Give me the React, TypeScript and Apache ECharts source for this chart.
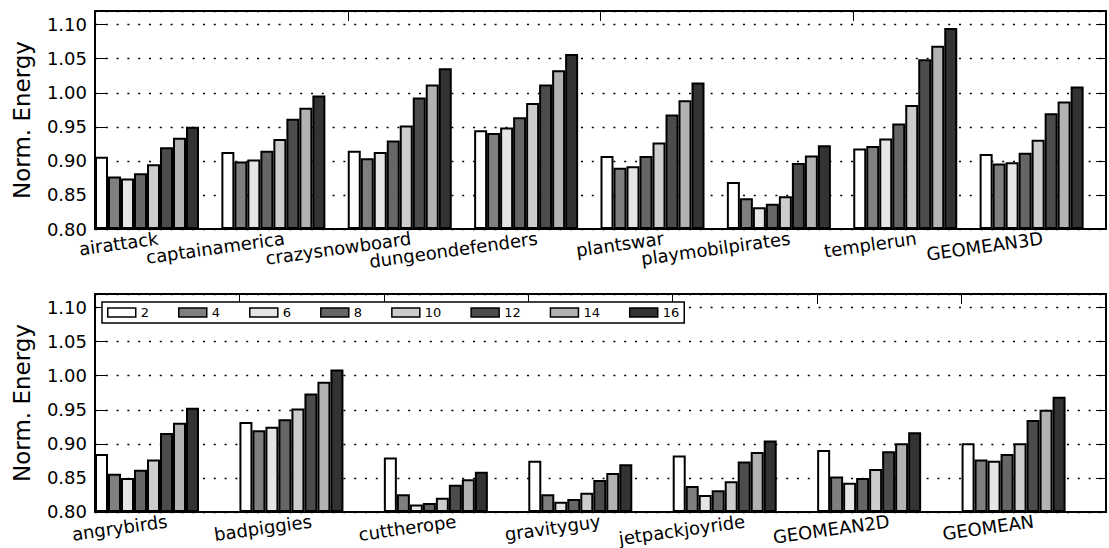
import React, { useEffect, useRef } from 'react';
import * as echarts from 'echarts';

// ---------- data ----------
const topCategories = ['airattack', 'captainamerica', 'crazysnowboard', 'dungeondefenders', 'plantswar', 'playmobilpirates', 'templerun', 'GEOMEAN3D'];
const bottomCategories = ['angrybirds', 'badpiggies', 'cuttherope', 'gravityguy', 'jetpackjoyride', 'GEOMEAN2D', 'GEOMEAN'];
const seriesNames = ['2', '4', '6', '8', '10', '12', '14', '16'];
const seriesColors = ['#ffffff', '#7f7f7f', '#e5e5e5', '#666666', '#cccccc', '#4c4c4c', '#b2b2b2', '#333333'];
const yTicks = [0.8, 0.85, 0.9, 0.95, 1.0, 1.05, 1.1];

// values per category, one per series (2,4,6,8,10,12,14,16)
const airattack = [0.906, 0.877, 0.874, 0.882, 0.895, 0.920, 0.934, 0.950];
const captainamerica = [0.913, 0.899, 0.902, 0.915, 0.932, 0.962, 0.978, 0.996];
const crazysnowboard = [0.915, 0.904, 0.913, 0.930, 0.952, 0.993, 1.012, 1.036];
const dungeondefenders = [0.945, 0.941, 0.949, 0.964, 0.985, 1.012, 1.033, 1.057];
const plantswar = [0.907, 0.890, 0.892, 0.907, 0.927, 0.968, 0.989, 1.015];
const playmobilpirates = [0.869, 0.845, 0.832, 0.837, 0.848, 0.897, 0.908, 0.923];
const templerun = [0.918, 0.922, 0.933, 0.955, 0.982, 1.049, 1.069, 1.095];
const geomean3d = [0.910, 0.896, 0.898, 0.912, 0.931, 0.970, 0.987, 1.009];

const angrybirds = [0.885, 0.856, 0.850, 0.862, 0.877, 0.916, 0.931, 0.953];
const badpiggies = [0.932, 0.920, 0.925, 0.936, 0.952, 0.974, 0.991, 1.009];
const cuttherope = [0.880, 0.826, 0.811, 0.813, 0.821, 0.840, 0.848, 0.859];
const gravityguy = [0.875, 0.826, 0.815, 0.819, 0.828, 0.847, 0.857, 0.870];
const jetpackjoyride = [0.883, 0.838, 0.825, 0.832, 0.845, 0.874, 0.888, 0.905];
const geomean2d = [0.891, 0.852, 0.843, 0.850, 0.863, 0.889, 0.901, 0.917];
const geomean = [0.901, 0.877, 0.875, 0.885, 0.901, 0.935, 0.950, 0.969];

const topRows = [airattack, captainamerica, crazysnowboard, dungeondefenders, plantswar, playmobilpirates, templerun, geomean3d];
const bottomRows = [angrybirds, badpiggies, cuttherope, gravityguy, jetpackjoyride, geomean2d, geomean];

// ---------- layout ----------
const W = 1109;
const H = 548;
const GRID_LEFT = 95;
const GRID_RIGHT = 3;
const GRID_H = 218;
const TOP_GRID_TOP = 11;
const BOTTOM_GRID_TOP = 294;
const BAR_W = 13;
const FONT = 'DejaVu Sans';

export default function App() {
  const ref = useRef<HTMLDivElement>(null);

  useEffect(() => {
    document.body.style.margin = '0';
    if (!ref.current) return;
    const chart = echarts.init(ref.current, undefined, { renderer: 'svg' });
    const plotW = W - GRID_LEFT - GRID_RIGHT;

    const grids = [
      { top: TOP_GRID_TOP, cats: topCategories, rows: topRows },
      { top: BOTTOM_GRID_TOP, cats: bottomCategories, rows: bottomRows },
    ];

    const xAxis: any[] = [];
    const yAxis: any[] = [];
    const series: any[] = [];

    grids.forEach((g, gi) => {
      // bottom category axis (labels)
      xAxis.push({
        type: 'category',
        gridIndex: gi,
        data: g.cats,
        position: 'bottom',
        boundaryGap: true,
        axisLine: { show: true, lineStyle: { color: '#000', width: 2 } },
        axisTick: { show: false },
        axisLabel: {
          interval: 0,
          rotate: 8,
          margin: 9,
          color: '#000',
          fontSize: 18,
          fontFamily: FONT,
        },
        splitLine: { show: false },
      });
      // top category axis (inner ticks)
      xAxis.push({
        type: 'category',
        gridIndex: gi,
        data: g.cats,
        position: 'top',
        boundaryGap: true,
        axisLine: { show: true, lineStyle: { color: '#000', width: 2 } },
        axisTick: { show: true, inside: true, length: 10, lineStyle: { color: '#000', width: 1 } },
        axisLabel: { show: false },
        splitLine: { show: false },
      });
      // left value axis
      yAxis.push({
        type: 'value',
        gridIndex: gi,
        min: 0.8,
        max: 1.12,
        interval: 0.05,
        startValue: 0.8,
        position: 'left',
        name: 'Norm. Energy',
        nameLocation: 'middle',
        nameGap: 62,
        nameTextStyle: { color: '#000', fontSize: 23, fontFamily: FONT },
        axisLine: { show: true, lineStyle: { color: '#000', width: 2 } },
        axisTick: { show: true, inside: true, length: 11, lineStyle: { color: '#000', width: 1 } },
        axisLabel: {
          color: '#000',
          fontSize: 18,
          fontFamily: FONT,
          margin: 8,
          showMaxLabel: false,
          formatter: (v: number) => (yTicks.some((t) => Math.abs(t - v) < 1e-6) ? v.toFixed(2) : ''),
        },
        splitLine: {
          show: true,
          lineStyle: { color: '#000', width: 1.3, type: [2, 8.8] },
        },
      });
      // right value axis (inner ticks)
      yAxis.push({
        type: 'value',
        gridIndex: gi,
        min: 0.8,
        max: 1.12,
        interval: 0.05,
        position: 'right',
        axisLine: { show: true, lineStyle: { color: '#000', width: 2 } },
        axisTick: { show: true, inside: true, length: 10, lineStyle: { color: '#000', width: 1 } },
        axisLabel: { show: false },
        splitLine: { show: false },
      });

      const band = plotW / g.cats.length;
      const spacer = band - BAR_W * seriesNames.length;

      seriesNames.forEach((name, si) => {
        series.push({
          type: 'bar',
          name,
          xAxisIndex: gi * 2,
          yAxisIndex: gi * 2,
          barWidth: BAR_W,
          barGap: '0%',
          data: g.rows.map((r) => r[si]),
          itemStyle: { color: seriesColors[si], borderColor: '#000', borderWidth: 2 },
          emphasis: { disabled: true },
          silent: true,
        });
      });
      // invisible spacer so each group starts at its category boundary
      series.push({
        type: 'bar',
        name: 'spacer' + gi,
        xAxisIndex: gi * 2,
        yAxisIndex: gi * 2,
        barWidth: spacer,
        barGap: '0%',
        data: g.cats.map(() => '-'),
        itemStyle: { color: 'transparent' },
        silent: true,
      });
    });

    chart.setOption({
      animation: false,
      backgroundColor: '#fff',
      grid: grids.map((g) => ({ left: GRID_LEFT, right: GRID_RIGHT, top: g.top, height: GRID_H })),
      xAxis,
      yAxis,
      legend: {
        data: seriesNames,
        left: 102,
        top: 302,
        orient: 'horizontal',
        icon: 'rect',
        itemWidth: 28,
        itemHeight: 9,
        itemGap: 29,
        padding: [4, 5, 4, 5],
        backgroundColor: '#fff',
        borderColor: '#000',
        borderWidth: 1.5,
        borderRadius: 0,
        selectedMode: false,
        itemStyle: { borderColor: '#000', borderWidth: 1.5 },
        textStyle: { color: '#000', fontSize: 13, fontFamily: FONT },
        z: 10,
      },
      series,
    });

    return () => chart.dispose();
  }, []);

  return <div ref={ref} style={{ width: W, height: H }} />;
}
